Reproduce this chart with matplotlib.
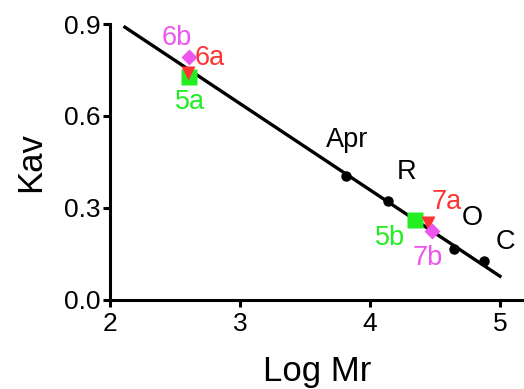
import matplotlib
matplotlib.use('Agg')

import matplotlib.pyplot as plt
import numpy as np

plt.rcParams['font.family'] = ['Liberation Sans', 'DejaVu Sans']

# standards (black dots)
std_labels = ['Apr', 'R', 'O', 'C']
std_logmr = [3.815, 4.14, 4.646, 4.877]
std_kav = [0.404, 0.323, 0.166, 0.127]

# regression line
fit_slope = -0.2815
fit_intercept = 1.485
fit_range = [2.115, 5.0]

# samples
sample_labels = ['5a', '6a', '6b', '5b', '7a', '7b']
sample_logmr = [2.608, 2.60, 2.608, 4.346, 4.446, 4.477]
sample_kav = [0.727, 0.74, 0.792, 0.261, 0.251, 0.225]
sample_markers = ['s', 'v', 'D', 's', 'v', 'D']

green = '#22EE22'
red = '#FF3333'
magenta = '#EE55EE'
sample_colors = [green, red, magenta, green, red, magenta]

fig = plt.figure(figsize=(5.24, 3.89), dpi=100)
ax = fig.add_axes([0.2099, 0.2288, 0.7901, 0.7095])

xs = np.array(fit_range)
ax.plot(xs, fit_intercept + fit_slope * xs, color='black', lw=2.4, zorder=2)
ax.plot(std_logmr, std_kav, 'o', color='black', ms=6.5, zorder=3)

sizes = {'s': 11, 'v': 10, 'D': 8}
for x, y, m, c in zip(sample_logmr, sample_kav, sample_markers, sample_colors):
    ax.plot(x, y, m, color=c, ms=sizes[m], mec='none', zorder=4)

# text annotations
fs = 19.5
ax.text(2.515, 0.854, '6b', color=magenta, fontsize=fs, ha='center', va='center')
ax.text(2.77, 0.789, '6a', color=red, fontsize=fs, ha='center', va='center')
ax.text(2.615, 0.645, '5a', color=green, fontsize=fs, ha='center', va='center')
ax.text(3.823, 0.521, 'Apr', color='black', fontsize=fs, ha='center', va='center')
ax.text(4.285, 0.417, 'R', color='black', fontsize=fs, ha='center', va='center')
ax.text(4.592, 0.319, '7a', color=red, fontsize=fs, ha='center', va='center')
ax.text(4.785, 0.267, 'O', color='black', fontsize=fs, ha='center', va='center')
ax.text(5.038, 0.189, 'C', color='black', fontsize=fs, ha='center', va='center')
ax.text(4.154, 0.202, '5b', color=green, fontsize=fs, ha='center', va='center')
ax.text(4.446, 0.137, '7b', color=magenta, fontsize=fs, ha='center', va='center')

ax.set_xlim(2, 5.185)
ax.set_ylim(0, 0.9)
ax.set_xticks([2, 3, 4, 5])
ax.set_yticks([0.0, 0.3, 0.6, 0.9])
ax.set_yticklabels(['0.0', '0.3', '0.6', '0.9'])
ax.spines['top'].set_visible(False)
ax.spines['right'].set_visible(False)
for s in ['left', 'bottom']:
    ax.spines[s].set_linewidth(2.2)
ax.tick_params(width=2.2, length=5, labelsize=19, pad=2)
ax.tick_params(axis='x', pad=4)
ax.set_xlabel('Log Mr', fontsize=25, labelpad=13)
ax.set_ylabel('Kav', fontsize=25, labelpad=12)

fig.savefig('out.png', dpi=100, facecolor='white')
